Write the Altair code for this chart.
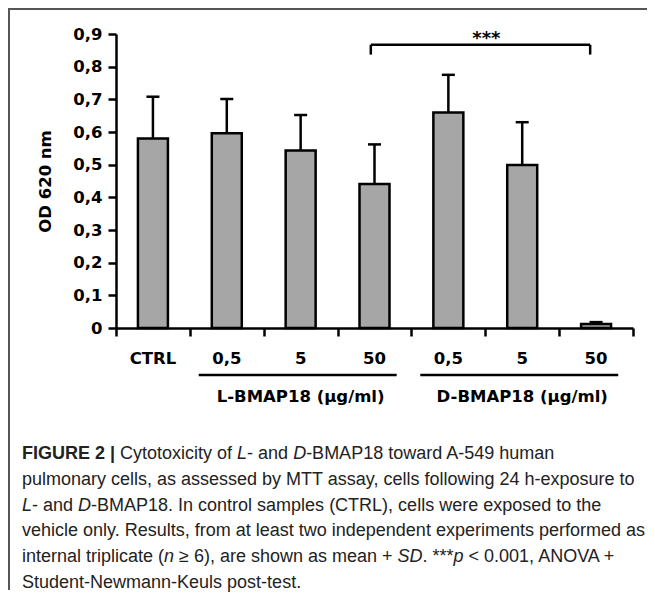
import altair as alt
import pandas as pd

# ---------------- data ----------------
categories = ["CTRL", "0,5", "5", "50", "0,5", "5", "50"]
means = [0.580, 0.596, 0.543, 0.441, 0.660, 0.499, 0.012]
sds = [0.128, 0.105, 0.109, 0.121, 0.115, 0.131, 0.006]
y_tick_values = [0.0, 0.1, 0.2, 0.3, 0.4, 0.5, 0.6, 0.7, 0.8, 0.9]
y_title = "OD 620 nm"

group_labels = ["L-BMAP18 (µg/ml)", "D-BMAP18 (µg/ml)"]
group_first = [1, 4]
group_last = [3, 6]

sig_pair = [3, 6]
sig_text = "***"
sig_level = 0.867
sig_drop = 0.03

caption_lines = [
    [("FIGURE 2 | ", "b"), ("Cytotoxicity of ", "r"), ("L", "i"), ("- and ", "r"), ("D", "i"),
     ("-BMAP18 toward A-549 human", "r")],
    [("pulmonary cells, as assessed by MTT assay, cells following 24 h-exposure to", "r")],
    [("L", "i"), ("- and ", "r"), ("D", "i"),
     ("-BMAP18. In control samples (CTRL), cells were exposed to the", "r")],
    [("vehicle only. Results, from at least two independent experiments performed as", "r")],
    [("internal triplicate (", "r"), ("n ", "i"), ("≥ 6), are shown as mean + ", "r"), ("SD", "i"),
     (". ***", "r"), ("p ", "i"), ("< 0.001, ANOVA +", "r")],
    [("Student-Newmann-Keuls post-test.", "r")],
]

# ---------------- layout / style ----------------
W, H = 517, 294
N = len(categories)
FONT = "DejaVu Sans"
CAP_FONT = "Liberation Sans"
CAP_SIZE = 18
CAP_X = -94
CAP_Y0 = 425
CAP_STEP = 25.8
LBL = 16.5
BAR_HALF = 0.203   # half bar width in band units
CAP_HALF = 0.088   # half error-cap width in band units

df = pd.DataFrame({"cat": categories, "mean": means, "sd": sds})
df["idx"] = range(N)

x_scale = alt.Scale(domain=[0, N], nice=False, zero=False)
y_scale = alt.Scale(domain=[0, 0.9], nice=False, zero=True)

x_axis = alt.Axis(
    values=list(range(N + 1)), labels=False, title=None, grid=False,
    tickSize=8, tickWidth=2.5, tickColor="black",
    domainColor="black", domainWidth=2.5,
)
y_axis = alt.Axis(
    values=y_tick_values, grid=False,
    labelExpr="datum.value == 0 ? '0' : replace(format(datum.value, '.1f'), '.', ',')",
    tickSize=8, tickWidth=2.5, tickColor="black",
    domainColor="black", domainWidth=2.5,
    labelFont=FONT, labelFontWeight="bold", labelFontSize=LBL, labelColor="black",
    labelPadding=6,
    title=y_title, titleFont=FONT, titleFontWeight="bold", titleFontSize=LBL,
    titleColor="black", titlePadding=19,
)


def X(field):
    return alt.X(field, scale=x_scale, axis=x_axis, title=None)


def Y(field):
    return alt.Y(field, scale=y_scale, axis=y_axis, title=y_title)


base = alt.Chart(df).transform_calculate(
    xc="datum.idx + 0.5",
    x0=f"datum.idx + 0.5 - {BAR_HALF}",
    x1=f"datum.idx + 0.5 + {BAR_HALF}",
    c0=f"datum.idx + 0.5 - {CAP_HALF}",
    c1=f"datum.idx + 0.5 + {CAP_HALF}",
    upper="datum.mean + datum.sd",
)

bars = base.mark_rect(fill="#a6a6a6", stroke="black", strokeWidth=2.5).encode(
    x=X("x0:Q"), x2="x1:Q", y=Y("mean:Q"), y2=alt.datum(0),
)
err = base.mark_rule(color="black", strokeWidth=2.5).encode(
    x=X("xc:Q"), y=Y("mean:Q"), y2="upper:Q",
)
cap = base.mark_rule(color="black", strokeWidth=2.5).encode(
    x=X("c0:Q"), x2="c1:Q", y=Y("upper:Q"),
)
cat_labels = base.mark_text(
    font=FONT, fontWeight="bold", fontSize=LBL, color="black", baseline="middle"
).encode(x=X("xc:Q"), y=alt.value(325), text="cat:N")

gdf = pd.DataFrame({
    "label": group_labels,
    "gx": [f + 0.12 for f in group_first],
    "gx2": [l + 1 - 0.2 for l in group_last],
    "gxc": [(f + l + 1) / 2 for f, l in zip(group_first, group_last)],
})
glines = alt.Chart(gdf).mark_rule(color="black", strokeWidth=2.5).encode(
    x=X("gx:Q"), x2="gx2:Q", y=alt.value(341)
)
glabels = alt.Chart(gdf).mark_text(
    font=FONT, fontWeight="bold", fontSize=LBL, color="black", baseline="middle"
).encode(x=X("gxc:Q"), y=alt.value(363), text="label:N")

bl = sig_pair[0] + 0.45
brr = sig_pair[1] + 0.42
bdf = pd.DataFrame({"bx": [bl], "bx2": [brr], "by": [sig_level], "t": [sig_text],
                    "bxm": [(bl + brr) / 2 + 0.08]})
ends = pd.DataFrame({"ex": [bl, brr], "ey": [sig_level, sig_level],
                     "ey2": [sig_level - sig_drop, sig_level - sig_drop]})
bh = alt.Chart(bdf).mark_rule(color="black", strokeWidth=2.5).encode(
    x=X("bx:Q"), x2="bx2:Q", y=Y("by:Q")
)
bv = alt.Chart(ends).mark_rule(color="black", strokeWidth=2.5).encode(
    x=X("ex:Q"), y=Y("ey:Q"), y2="ey2:Q"
)
stars = alt.Chart(bdf).mark_text(
    font=FONT, fontWeight="bold", fontSize=18, color="black", baseline="alphabetic", dy=-1
).encode(x=X("bxm:Q"), y=Y("by:Q"), text="t:N")

# caption text (Arial-metric widths for segment placement)
AW = {' ': 278, '!': 278, '(': 333, ')': 333, '*': 389, '+': 584, ',': 278, '-': 333, '.': 278,
      '/': 278, ':': 278, '<': 584, '>': 584, '≥': 549, '|': 280}
for ch in "0123456789":
    AW[ch] = 556
AW.update(dict(zip("ABCDEFGHIJKLMNOPQRSTUVWXYZ",
                   [667, 667, 722, 722, 667, 611, 778, 722, 278, 500, 667, 556, 833, 722, 778,
                    667, 778, 722, 667, 611, 722, 667, 944, 667, 667, 611])))
AW.update(dict(zip("abcdefghijklmnopqrstuvwxyz",
                   [556, 556, 500, 556, 556, 278, 556, 556, 222, 222, 500, 222, 833, 556, 556,
                    556, 556, 333, 500, 278, 556, 500, 722, 500, 500, 500])))


def tw(s):
    return sum(AW.get(c, 556) for c in s) / 1000 * CAP_SIZE


one = pd.DataFrame({"a": [0]})
cap_layers = []
for i, line in enumerate(caption_lines):
    px = CAP_X
    for txt, st in line:
        kw = {}
        if st == "b":
            kw["fontWeight"] = "bold"
        elif st == "i":
            kw["fontStyle"] = "italic"
        cap_layers.append(
            alt.Chart(one).mark_text(
                align="left", baseline="alphabetic", font=CAP_FONT, fontSize=CAP_SIZE,
                color="#222", **kw
            ).encode(x=alt.value(px), y=alt.value(CAP_Y0 + i * CAP_STEP),
                     text=alt.value(txt.rstrip()))
        )
        px += tw(txt)

top_border = alt.Chart(one).mark_rule(color="#555", strokeWidth=2).encode(
    x=alt.value(-108), x2=alt.value(540), y=alt.value(-25)
)
left_border = alt.Chart(one).mark_rule(color="#555", strokeWidth=2).encode(
    x=alt.value(-107), y=alt.value(-26), y2=alt.value(556)
)

chart = alt.layer(
    bars, err, cap, cat_labels, glines, glabels, bh, bv, stars,
    *cap_layers, top_border, left_border
).properties(
    width=W, height=H,
    padding={"left": 108, "top": 26, "right": 14, "bottom": 265},
    autosize=alt.AutoSizeParams(type="none"),
    background="white",
).configure_view(stroke=None)

chart.save("out.html", embed_options={"renderer": "svg", "actions": False})
